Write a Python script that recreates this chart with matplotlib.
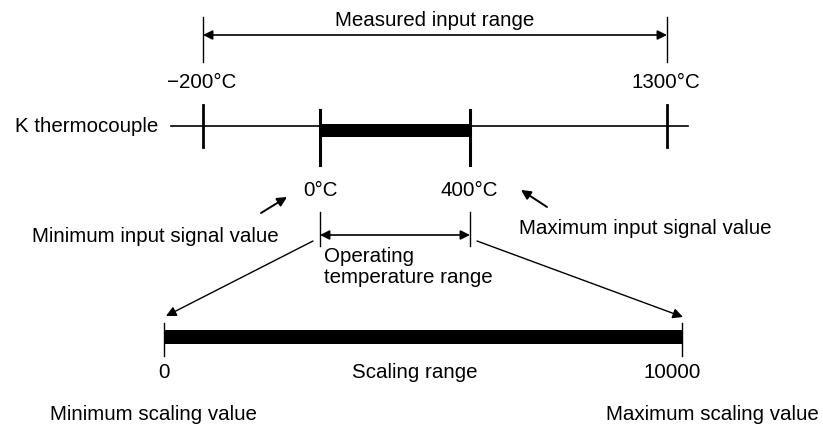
import matplotlib
matplotlib.use("Agg")
import matplotlib.pyplot as plt

# ---- data (labels / values shown in the diagram) ----
temps = [-200, 0, 400, 1300]
temp_labels = ["\u2212200\u00b0C", "0\u00b0C", "400\u00b0C", "1300\u00b0C"]
scale_values = [0, 10000]
scale_labels = ["0", "10000"]
sensor_name = "K thermocouple"
texts = {
    "measured": "Measured input range",
    "min_in": "Minimum input signal value",
    "max_in": "Maximum input signal value",
    "op": "Operating\ntemperature range",
    "scaling": "Scaling range",
    "min_sc": "Minimum scaling value",
    "max_sc": "Maximum scaling value",
}

# ---- layout (pixel-space positions of the schematic) ----
tx = {-200: 203, 0: 320, 400: 470, 1300: 667}
sx = {0: 164, 10000: 682}
y_line = 126

plt.rcParams['font.family'] = ['Liberation Sans', 'DejaVu Sans']
FS = 14.8

fig = plt.figure(figsize=(8.23, 4.26), dpi=100)
ax = fig.add_axes([0, 0, 1, 1])
ax.set_xlim(0, 823)
ax.set_ylim(426, 0)
ax.axis('off')

k = 'black'
# main line
ax.plot([171, 688], [y_line, y_line], color=k, lw=1.2)
# outer ticks
for t in (temps[0], temps[3]):
    ax.plot([tx[t], tx[t]], [105, 147], color=k, lw=2.0)
    ax.plot([tx[t], tx[t]], [17, 62], color=k, lw=1.0)
# inner ticks
for t in (temps[1], temps[2]):
    ax.plot([tx[t], tx[t]], [110, 165], color=k, lw=2.2)
    ax.plot([tx[t], tx[t]], [212, 246], color=k, lw=1.0)
# thick operating bar
ax.fill_between([tx[0], tx[400]], 123.5, 137, color=k, lw=0)

# measured range arrow
ap = dict(arrowstyle='<|-|>', color=k, lw=1.2, mutation_scale=14, shrinkA=0, shrinkB=0)
ax.annotate('', xy=(tx[1300], 35), xytext=(tx[-200], 35), arrowprops=ap)
ax.text((tx[-200] + tx[1300]) / 2, 21, texts["measured"], ha='center', va='center', fontsize=FS)

# temperature labels
for t, lab in zip(temps, temp_labels):
    y = 83 if t in (-200, 1300) else 190
    ax.text(tx[t] + (1 if t == 0 else -1), y, lab, ha='center', va='center', fontsize=FS)

ax.text(158, y_line, sensor_name, ha='right', va='center', fontsize=FS)

# operating range arrow
ax.annotate('', xy=(tx[400], 235), xytext=(tx[0], 235), arrowprops=ap)
ax.text(324, 267, texts["op"], ha='left', va='center', fontsize=FS, linespacing=1.12)

# small pointer arrows
ap1 = dict(arrowstyle='-|>', color=k, lw=1.4, mutation_scale=14, shrinkA=0, shrinkB=0)
ax.annotate('', xy=(287, 197), xytext=(261, 213), arrowprops=ap1)
ax.annotate('', xy=(521, 190), xytext=(547, 207), arrowprops=ap1)
ax.text(32, 237, texts["min_in"], ha='left', va='center', fontsize=FS)
ax.text(519, 229, texts["max_in"], ha='left', va='center', fontsize=FS)

# diagonal mapping arrows
ap2 = dict(arrowstyle='-|>', color=k, lw=1.0, mutation_scale=15, shrinkA=0, shrinkB=0)
ax.annotate('', xy=(166, 316), xytext=(313, 241), arrowprops=ap2)
ax.annotate('', xy=(683, 317), xytext=(477, 241), arrowprops=ap2)

# scaling bar
ax.fill_between([sx[0], sx[10000]], 330, 344, color=k, lw=0)
for v in scale_values:
    ax.plot([sx[v], sx[v]], [323, 356], color=k, lw=1.0)
ax.text(sx[0], 373, scale_labels[0], ha='center', va='center', fontsize=FS)
ax.text(672, 373, scale_labels[1], ha='center', va='center', fontsize=FS)
ax.text(415, 373, texts["scaling"], ha='center', va='center', fontsize=FS)
ax.text(50, 415, texts["min_sc"], ha='left', va='center', fontsize=FS)
ax.text(819, 415, texts["max_sc"], ha='right', va='center', fontsize=FS)

fig.savefig("out.png", dpi=100, facecolor='white')
